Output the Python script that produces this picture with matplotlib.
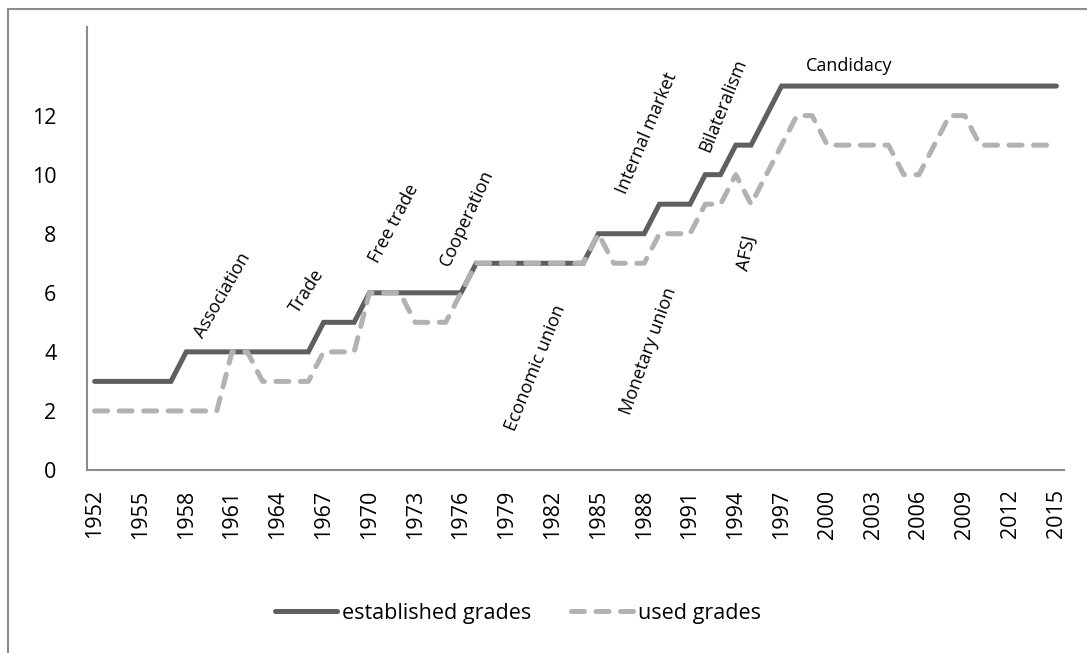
import matplotlib
matplotlib.use("Agg")
import matplotlib.pyplot as plt
from matplotlib.patches import Rectangle

years = list(range(1952, 2016))
established = [3, 3, 3, 3, 3, 3, 4, 4, 4, 4,        # 1952-1961
               4, 4, 4, 4, 4, 5, 5, 5, 6, 6,        # 1962-1971
               6, 6, 6, 6, 6, 7, 7, 7, 7, 7,        # 1972-1981
               7, 7, 7, 8, 8, 8, 8, 9, 9, 9,        # 1982-1991
               10, 10, 11, 11, 12, 13, 13, 13, 13, 13,  # 1992-2001
               13, 13, 13, 13, 13, 13, 13, 13, 13, 13,  # 2002-2011
               13, 13, 13, 13]                          # 2012-2015
used = [2, 2, 2, 2, 2, 2, 2, 2, 2, 4,              # 1952-1961
        4, 3, 3, 3, 3, 4, 4, 4, 6, 6,              # 1962-1971
        6, 5, 5, 5, 6, 7, 7, 7, 7, 7,              # 1972-1981
        7, 7, 7, 8, 7, 7, 7, 8, 8, 8,              # 1982-1991
        9, 9, 10, 9, 10, 11, 12, 12, 11, 11,       # 1992-2001
        11, 11, 11, 10, 10, 11, 12, 12, 11, 11,    # 2002-2011
        11, 11, 11, 11]                            # 2012-2015
series_names = ["established grades", "used grades"]
yticks = [0, 2, 4, 6, 8, 10, 12]
xtick_years = list(range(1952, 2016, 3))

labels = ["Association", "Trade", "Free trade", "Cooperation", "Economic union",
          "Monetary union", "AFSJ", "Internal market", "Bilateralism", "Candidacy"]
label_x = [1960.4, 1965.9, 1971.6, 1976.4, 1980.9, 1988.3, 1994.7, 1988.2, 1993.2, 2001.4]
label_y = [5.93, 6.07, 8.34, 8.54, 3.46, 4.03, 7.36, 11.39, 12.34, 13.69]
label_rot = [60, 57, 62, 65, 68, 70, 78, 67, 68, 0]

FONT = "Open Sans"
plt.rcParams["font.family"] = [FONT, "DejaVu Sans"]

fig = plt.figure(figsize=(10.87, 6.53), dpi=100)
ax = fig.add_axes([87 / 1087, 1 - 470 / 653, (1064 - 87) / 1087, (470 - 27) / 653])

ax.plot(years, established, color="#5f5f5f", lw=3.6, solid_capstyle="round",
        solid_joinstyle="miter", label=series_names[0], zorder=2)
ax.plot(years, used, color="#b2b2b2", lw=3.6, linestyle=(0, (2.6, 2.3)),
        dash_capstyle="round", label=series_names[1], zorder=3)

ax.set_xlim(1951.5, 2015.5)
ax.set_ylim(0, 15)
ax.set_yticks(yticks)
ax.set_yticklabels([str(v) for v in yticks], fontsize=15.5)
ax.set_xticks(xtick_years)
ax.set_xticklabels([str(y) for y in xtick_years], rotation=90, fontsize=15.5)
ax.tick_params(length=0, pad=14, colors="black")
ax.tick_params(axis="y", pad=22)
for s in ["top", "right"]:
    ax.spines[s].set_visible(False)
for s in ["left", "bottom"]:
    ax.spines[s].set_color("#8c8c8c")
    ax.spines[s].set_linewidth(1.5)

for t, x, y, r in zip(labels, label_x, label_y, label_rot):
    ax.text(x, y, t, rotation=r, rotation_mode="anchor", ha="center", va="center",
            fontsize=13, color="black")

leg = fig.legend(loc="center", bbox_to_anchor=(518 / 1087, 1 - 613 / 653), ncol=2,
                 frameon=False, fontsize=15.5, handlelength=2.9, handletextpad=0.25,
                 columnspacing=1.8)

fig.add_artist(Rectangle((8 / 1087, -0.05), 1.2, 1.05 - 9 / 653, transform=fig.transFigure,
                         fill=False, edgecolor="#8c8c8c", lw=1.5, clip_on=False))

fig.savefig("out.png", dpi=100)
